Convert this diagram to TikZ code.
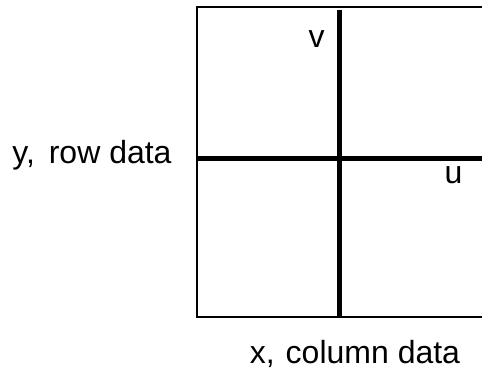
\documentclass[tikz,border=0pt]{standalone}
\usepackage{fontspec}
\setmainfont{Liberation Sans}
\usepackage{tikz}
\usetikzlibrary{positioning}

\tikzset{
  frame/.style={line width=2pt, black},
  axis/.style={line width=5pt, black},
  lbl/.style={font=\fontsize{32}{38}\selectfont, inner sep=0pt, anchor=base}
}

\begin{document}
\begin{tikzpicture}[x=1pt, y=-1pt]
  \useasboundingbox (0,0) rectangle (482,375);
  \clip (0,0) rectangle (482,375);

  % Quadrado (borda direita fora da figura)
  \draw[frame] (197,6.5) rectangle (510,317);

  % Eixos u e v
  \draw[axis] (197,158) -- (510,158);
  \draw[axis] (339,9.5) -- (339,317);

  % Rotulos dos eixos
  \node[lbl] (v) at (316.5,47) {v};
  \node[lbl] (u) at (453.5,183) {u};

  % Rotulos dos dados
  \node[lbl] (rowdata) at (92,163.5) {y,\hspace{5pt} row data};
  \node[lbl] (coldata) at (355,363.5) {x,\hspace{2pt} column data};
\end{tikzpicture}
\end{document}
